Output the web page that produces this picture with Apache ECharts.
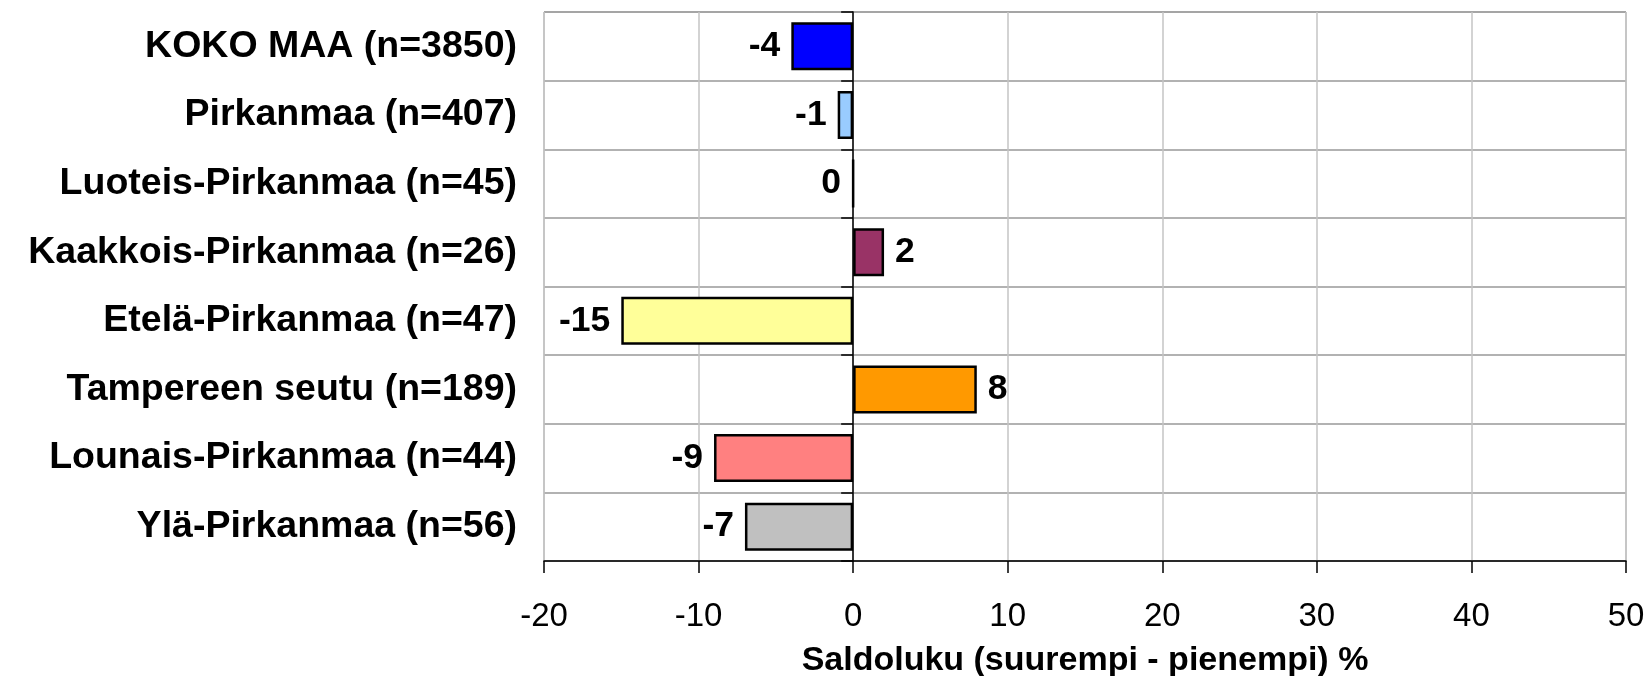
<!DOCTYPE html>
<html>
<head>
<meta charset="utf-8">
<title>Saldoluku</title>
<script src="https://cdn.jsdelivr.net/npm/echarts@6/dist/echarts.min.js"></script>
<style>
    html, body { margin: 0; padding: 0; background: #fff; }
    #chart { width: 1649px; height: 676px; }
</style>
</head>
<body>
<div id="chart"></div>
<script>
    // alueet ylhäältä alas
    const categories = [
        'KOKO MAA (n=3850)',
        'Pirkanmaa (n=407)',
        'Luoteis-Pirkanmaa (n=45)',
        'Kaakkois-Pirkanmaa (n=26)',
        'Etelä-Pirkanmaa (n=47)',
        'Tampereen seutu (n=189)',
        'Lounais-Pirkanmaa (n=44)',
        'Ylä-Pirkanmaa (n=56)'
    ];
    const values = [-4, -1, 0, 2, -15, 8, -9, -7];
    const barColors = ['#0000FF', '#99CCFF', '#FFFFFF', '#993366', '#FFFF99', '#FF9900', '#FF8080', '#C0C0C0'];
    const xMin = -20;
    const xMax = 50;
    const xStep = 10;
    const xTitle = 'Saldoluku (suurempi - pienempi) %';

    const font = 'Liberation Sans';

    let myChart = echarts.init(document.getElementById('chart'));
    myChart.setOption({
        animation: false,
        grid: {
            left: 544,
            right: 23,
            top: 12,
            bottom: 115,
            outerBoundsMode: 'none',
            show: true,
            borderColor: '#999',
            borderWidth: 1
        },
        xAxis: {
            type: 'value',
            min: xMin,
            max: xMax,
            interval: xStep,
            axisLine: { show: true, onZero: false, lineStyle: { color: '#000', width: 1.5 } },
            axisTick: { show: true, length: 12, lineStyle: { color: '#000', width: 1.5 } },
            axisLabel: { fontFamily: font, fontSize: 33, color: '#000', margin: 39 },
            splitLine: { show: true, lineStyle: { color: '#c4c4c4', width: 1.5 } },
            name: xTitle,
            nameLocation: 'middle',
            nameGap: 83,
            nameTextStyle: { fontFamily: font, fontSize: 34, fontWeight: 'bold', color: '#000' }
        },
        yAxis: [{
                // nimet vasemmalla
                type: 'category',
                inverse: true,
                data: categories,
                axisLine: { show: false, onZero: false },
                axisTick: { show: false },
                axisLabel: { fontFamily: font, fontSize: 37.5, fontWeight: 'bold', color: '#000', margin: 27 },
                splitLine: { show: true, lineStyle: { color: '#999', width: 1.5 } }
            },
            // nollaviiva
            {
                type: 'category',
                inverse: true,
                data: categories,
                position: 'left',
                axisLine: { show: true, onZero: true, lineStyle: { color: '#000', width: 1.5 } },
                axisTick: { show: true, length: 12, lineStyle: { color: '#000', width: 1.5 } },
                axisLabel: { show: false },
                splitLine: { show: false }
            }
        ],
        series: [{
            type: 'bar',
            yAxisIndex: 0,
            barWidth: 48,
            data: values.map(function (v, i) {
                return {
                    value: v,
                    itemStyle: { color: barColors[i], borderColor: '#000', borderWidth: 2.5 },
                    label: { position: v > 0 ? 'right' : 'left' }
                };
            }),
            label: {
                show: true,
                distance: 11,
                fontFamily: font,
                fontSize: 35.5,
                fontWeight: 'bold',
                color: '#000'
            }
        }]
    });
</script>
</body>
</html>
